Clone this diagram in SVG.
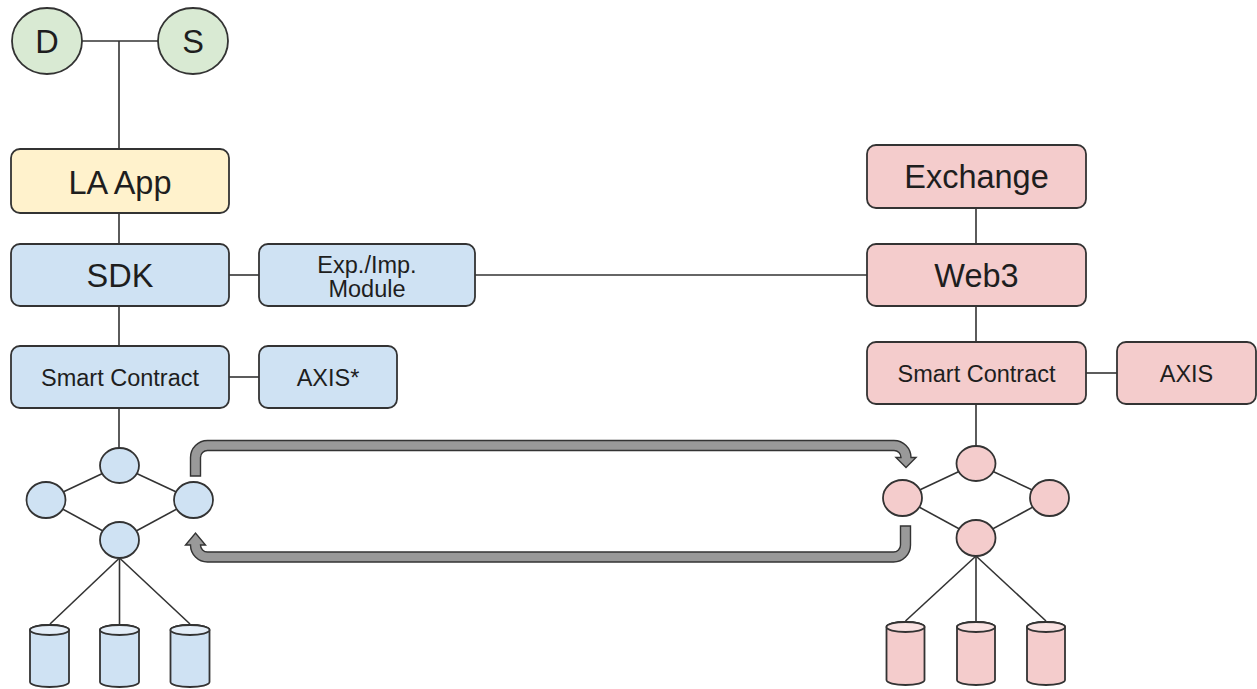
<svg xmlns="http://www.w3.org/2000/svg" width="1257" height="689" viewBox="0 0 1257 689">
<style>
.b{stroke:#333;stroke-width:1.8}
.blue{fill:#cfe2f3}
.pink{fill:#f4cccc}
.yel{fill:#fff2cc}
.grn{fill:#d9ead3}
.lt-blue{fill:#e4eef8}
.lt-pink{fill:#f9e2e2}
.t{font-family:"Liberation Sans",Arial,sans-serif;fill:#1e1e1e;text-anchor:middle}
.big{font-size:32.5px}
.sm{font-size:23.5px}
.ln{stroke:#333;stroke-width:1.6;fill:none}
.arr{fill:#999;stroke:#333;stroke-width:1.4;stroke-linejoin:miter}
</style>
<g id="connectors">
<line class="ln" x1="82" y1="41" x2="158" y2="41"/>
<line class="ln" x1="119" y1="41" x2="119" y2="149"/>
<line class="ln" x1="119" y1="213" x2="119" y2="244"/>
<line class="ln" x1="229" y1="275" x2="259" y2="275"/>
<line class="ln" x1="119" y1="306" x2="119" y2="346"/>
<line class="ln" x1="229" y1="377" x2="259" y2="377"/>
<line class="ln" x1="119" y1="408" x2="119" y2="448"/>
<line class="ln" x1="475" y1="275" x2="867" y2="275"/>
<line class="ln" x1="976" y1="208" x2="976" y2="244"/>
<line class="ln" x1="976" y1="306" x2="976" y2="342"/>
<line class="ln" x1="1086" y1="373" x2="1117" y2="373"/>
<line class="ln" x1="976" y1="404" x2="976" y2="446"/>
<line class="ln" x1="119.5" y1="465.5" x2="46" y2="500"/>
<line class="ln" x1="119.5" y1="465.5" x2="193.5" y2="500"/>
<line class="ln" x1="46" y1="500" x2="119.5" y2="540"/>
<line class="ln" x1="193.5" y1="500" x2="119.5" y2="540"/>
<line class="ln" x1="119.5" y1="558" x2="50" y2="624"/>
<line class="ln" x1="119.5" y1="558" x2="119.5" y2="624"/>
<line class="ln" x1="119.5" y1="558" x2="190" y2="624"/>
<line class="ln" x1="976" y1="463.5" x2="902.5" y2="498"/>
<line class="ln" x1="976" y1="463.5" x2="1049.5" y2="498"/>
<line class="ln" x1="902.5" y1="498" x2="976" y2="538"/>
<line class="ln" x1="1049.5" y1="498" x2="976" y2="538"/>
<line class="ln" x1="976" y1="556" x2="905.5" y2="621"/>
<line class="ln" x1="976" y1="556" x2="976" y2="621"/>
<line class="ln" x1="976" y1="556" x2="1046" y2="621"/>
<path class="arr" d="M190.5,476 V457.5 A17,17 0 0 1 207.5,440.5 H894 A17,17 0 0 1 911,457.5 H916 L906,467.5 L896,457.5 H901 A7,7 0 0 0 894,450.5 H207.5 A7,7 0 0 0 200.5,457.5 V476 Z"/>
<path class="arr" d="M900.5,526 H910.5 V545 A17,17 0 0 1 893.5,562 H207.5 A17,17 0 0 1 190.5,545 H185.5 L195.5,533 L205.5,545 H200.5 A7,7 0 0 0 207.5,552 H893.5 A7,7 0 0 0 900.5,545 Z"/>
</g>
<g id="node-D"><ellipse class="b grn" cx="47" cy="41" rx="35" ry="33"/><text class="t big" x="47" y="52.5">D</text></g>
<g id="node-S"><ellipse class="b grn" cx="193" cy="41" rx="35" ry="33"/><text class="t big" x="193" y="52.5">S</text></g>
<g id="node-la-app"><rect class="b yel" x="11" y="149" width="218" height="64" rx="9"/><text class="t big" x="120" y="194">LA App</text></g>
<g id="node-sdk"><rect class="b blue" x="11" y="244" width="218" height="62" rx="9"/><text class="t big" x="120" y="287">SDK</text></g>
<g id="node-expimp"><rect class="b blue" x="259" y="244" width="216" height="62" rx="9"/><text class="t sm" x="367" y="272.5">Exp./Imp.</text><text class="t sm" x="367" y="297">Module</text></g>
<g id="node-sc-left"><rect class="b blue" x="11" y="346" width="218" height="62" rx="9"/><text class="t sm" x="120" y="385.5">Smart Contract</text></g>
<g id="node-axis-left"><rect class="b blue" x="259" y="346" width="138" height="62" rx="9"/><text class="t sm" x="328" y="385.5">AXIS*</text></g>
<g id="node-exchange"><rect class="b pink" x="867" y="145" width="219" height="63" rx="9"/><text class="t big" x="976.5" y="188">Exchange</text></g>
<g id="node-web3"><rect class="b pink" x="867" y="244" width="219" height="62" rx="9"/><text class="t big" x="976.5" y="287">Web3</text></g>
<g id="node-sc-right"><rect class="b pink" x="867" y="342" width="219" height="62" rx="9"/><text class="t sm" x="976.5" y="381.5">Smart Contract</text></g>
<g id="node-axis-right"><rect class="b pink" x="1117" y="342" width="139" height="62" rx="9"/><text class="t sm" x="1186.5" y="381.5">AXIS</text></g>
<g id="net-left">
<ellipse class="b blue" cx="119.5" cy="465.5" rx="19.5" ry="17.5"/>
<ellipse class="b blue" cx="46" cy="500" rx="19.5" ry="18"/>
<ellipse class="b blue" cx="193.5" cy="500" rx="19.5" ry="18"/>
<ellipse class="b blue" cx="119.5" cy="540" rx="19.5" ry="18"/>
</g>
<g id="net-right">
<ellipse class="b pink" cx="976" cy="463.5" rx="19.5" ry="17.5"/>
<ellipse class="b pink" cx="902.5" cy="498" rx="19.5" ry="18"/>
<ellipse class="b pink" cx="1049.5" cy="498" rx="19.5" ry="18"/>
<ellipse class="b pink" cx="976" cy="538" rx="19.5" ry="18"/>
</g>
<g id="db-left-1"><path class="b blue" d="M30,630 A19.5,5 0 0 1 69,630 V682 A19.5,5 0 0 1 30,682 Z"/><ellipse class="b lt-blue" cx="49.5" cy="630" rx="19.5" ry="5"/></g>
<g id="db-left-2"><path class="b blue" d="M100,630 A19.5,5 0 0 1 139,630 V682 A19.5,5 0 0 1 100,682 Z"/><ellipse class="b lt-blue" cx="119.5" cy="630" rx="19.5" ry="5"/></g>
<g id="db-left-3"><path class="b blue" d="M170.5,630 A19.5,5 0 0 1 209.5,630 V682 A19.5,5 0 0 1 170.5,682 Z"/><ellipse class="b lt-blue" cx="190" cy="630" rx="19.5" ry="5"/></g>
<g id="db-right-1"><path class="b pink" d="M886.5,627 A19,5 0 0 1 924.5,627 V680 A19,5 0 0 1 886.5,680 Z"/><ellipse class="b lt-pink" cx="905.5" cy="627" rx="19" ry="5"/></g>
<g id="db-right-2"><path class="b pink" d="M957,627 A19,5 0 0 1 995,627 V680 A19,5 0 0 1 957,680 Z"/><ellipse class="b lt-pink" cx="976" cy="627" rx="19" ry="5"/></g>
<g id="db-right-3"><path class="b pink" d="M1027,627 A19,5 0 0 1 1065,627 V680 A19,5 0 0 1 1027,680 Z"/><ellipse class="b lt-pink" cx="1046" cy="627" rx="19" ry="5"/></g>
</svg>
